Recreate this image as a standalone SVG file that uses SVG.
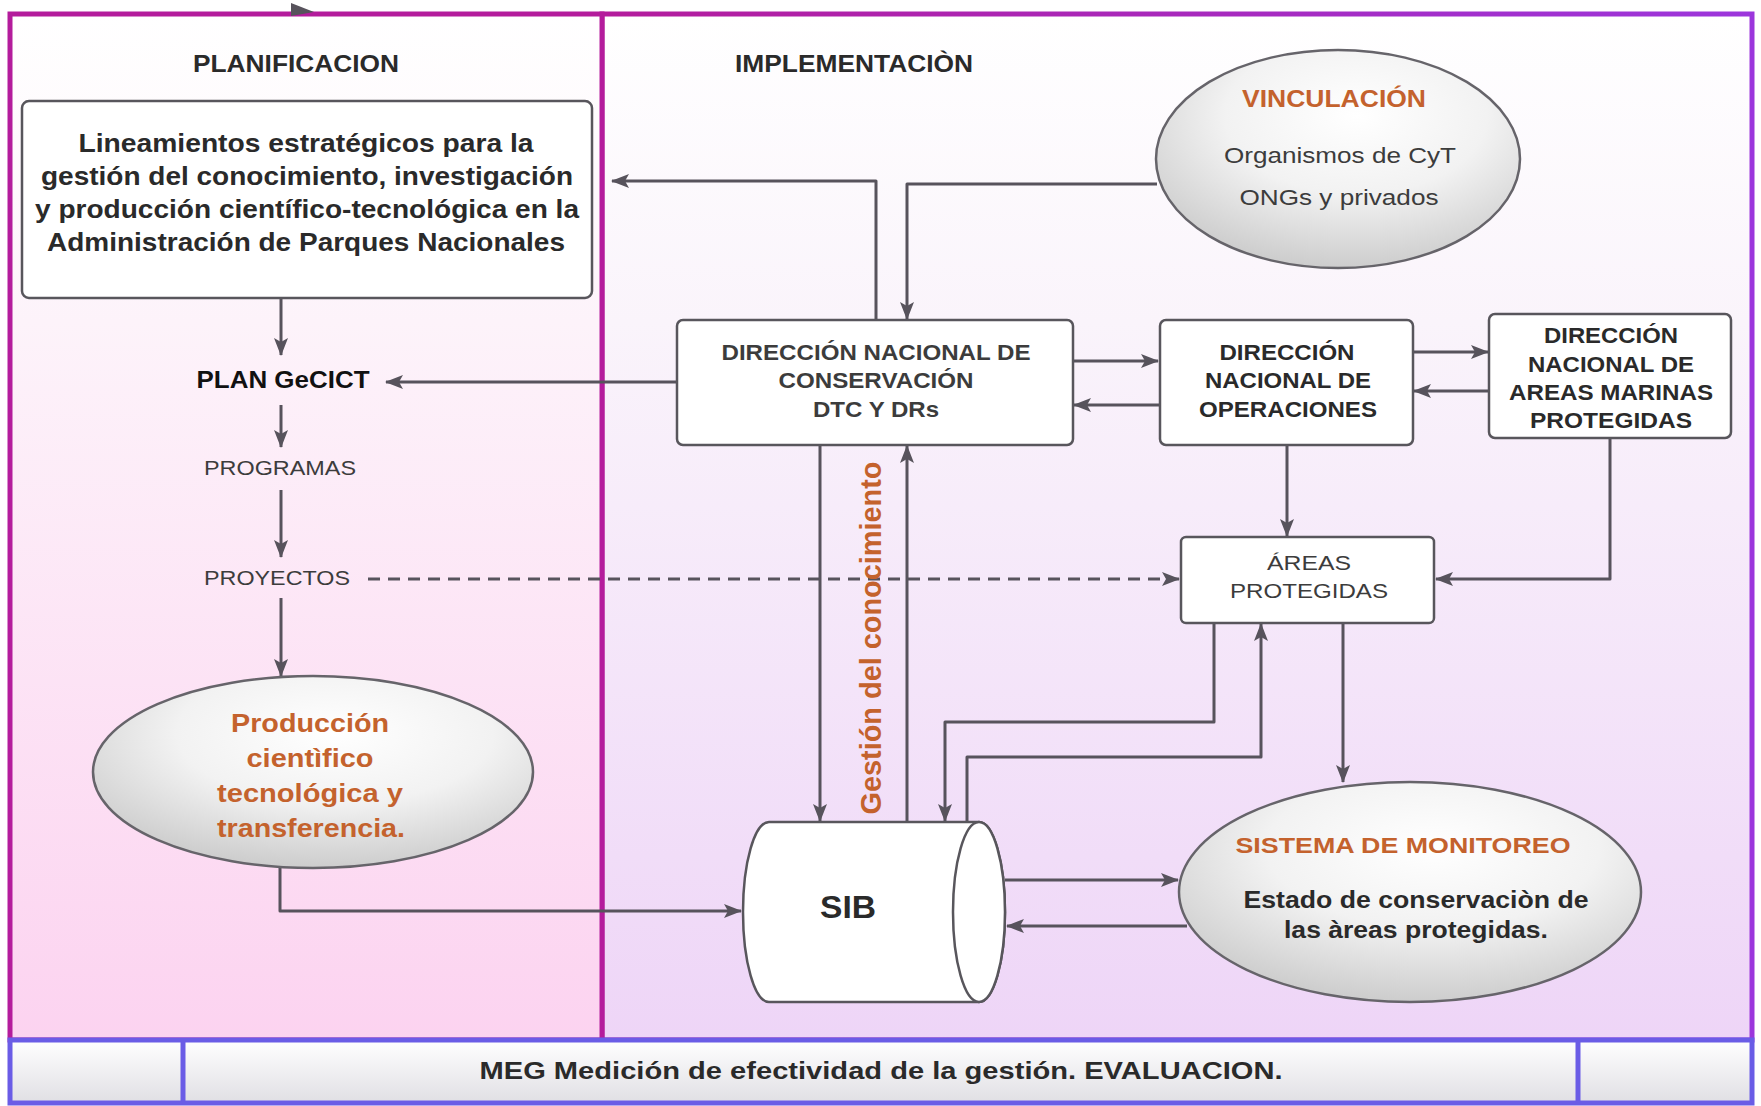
<svg xmlns="http://www.w3.org/2000/svg" width="1761" height="1106" viewBox="0 0 1761 1106">
<defs>
  <linearGradient id="bgL" x1="0" y1="0" x2="0" y2="1">
    <stop offset="0" stop-color="#ffffff"/>
    <stop offset="0.3" stop-color="#fdf3fa"/>
    <stop offset="1" stop-color="#fcd3f0"/>
  </linearGradient>
  <linearGradient id="bgR" x1="0" y1="0" x2="0" y2="1">
    <stop offset="0" stop-color="#ffffff"/>
    <stop offset="0.3" stop-color="#faf4fb"/>
    <stop offset="1" stop-color="#eed5f7"/>
  </linearGradient>
  <linearGradient id="strokeR" x1="0" y1="0" x2="1" y2="0">
    <stop offset="0" stop-color="#b41c9c"/>
    <stop offset="1" stop-color="#9c36dc"/>
  </linearGradient>
  <linearGradient id="cell" x1="0" y1="0" x2="0" y2="1">
    <stop offset="0" stop-color="#ffffff"/>
    <stop offset="1" stop-color="#e0dfe4"/>
  </linearGradient>
  <radialGradient id="ell" cx="0.55" cy="0.3" r="0.8">
    <stop offset="0" stop-color="#ffffff"/>
    <stop offset="0.45" stop-color="#f2f2f2"/>
    <stop offset="1" stop-color="#c2c2c2"/>
  </radialGradient>
  <marker id="arr" markerUnits="userSpaceOnUse" markerWidth="18" markerHeight="14" refX="17" refY="7" orient="auto">
    <path d="M0,0 L18,7 L0,14 L4,7 z" fill="#57535c"/>
  </marker>
</defs>
<style>
  .conn{fill:none;stroke:#57535c;stroke-width:3;stroke-linejoin:round;marker-end:url(#arr)}
  .dash{stroke-dasharray:12 8}
  .box{fill:#ffffff;stroke:#58565c;stroke-width:2.5}
  .ellipse{fill:url(#ell);stroke:#66646a;stroke-width:2.5}
  .t{font-family:"Liberation Sans",Arial,Helvetica,sans-serif;text-anchor:middle}
  .b{font-weight:bold}
  .dark{fill:#2a2a2a}
  .grey{fill:#3c3c3c}
  .or{fill:#c4622d}
</style>

<g id="panel-implementacion">
  <rect x="602" y="14" width="1150" height="1026" fill="url(#bgR)" stroke="url(#strokeR)" stroke-width="5"/>
  <text class="t b dark" x="854" y="72" font-size="24" textLength="238" lengthAdjust="spacingAndGlyphs">IMPLEMENTACIÒN</text>
</g>
<g id="panel-planificacion">
  <rect x="10" y="14" width="592" height="1026" fill="url(#bgL)" stroke="#b41c9c" stroke-width="5"/>
  <text class="t b dark" x="296" y="72" font-size="24" textLength="206" lengthAdjust="spacingAndGlyphs">PLANIFICACION</text>
  <path d="M291,3 L314,12 L291,16 z" fill="#57535c"/>
</g>

<g id="evaluacion">
  <rect x="10" y="1040" width="1742" height="63" fill="url(#cell)" stroke="#6a5ce6" stroke-width="5"/>
  <line x1="183" y1="1040" x2="183" y2="1103" stroke="#6a5ce6" stroke-width="5"/>
  <line x1="1578" y1="1040" x2="1578" y2="1103" stroke="#6a5ce6" stroke-width="5"/>
  <text class="t b dark" x="881" y="1079" font-size="23" textLength="803" lengthAdjust="spacingAndGlyphs">MEG Medición de efectividad de la gestión. EVALUACION.</text>
</g>

<g id="connectors">
  <path class="conn" d="M281,298 L281,355"/>
  <path class="conn" d="M281,405 L281,447"/>
  <path class="conn" d="M281,490 L281,557"/>
  <path class="conn" d="M281,598 L281,676"/>
  <path class="conn" d="M280,868 L280,911 L741,911"/>
  <path class="conn dash" d="M368,579 L1179,579"/>
  <path class="conn" d="M677,382 L386,382"/>
  <path class="conn" d="M876,320 L876,181 L612,181"/>
  <path class="conn" d="M1157,184 L907,184 L907,319"/>
  <path class="conn" d="M1073,361 L1158,361"/>
  <path class="conn" d="M1160,405 L1074,405"/>
  <path class="conn" d="M1413,352 L1488,352"/>
  <path class="conn" d="M1489,391 L1414,391"/>
  <path class="conn" d="M1287,445 L1287,536"/>
  <path class="conn" d="M1610,438 L1610,579 L1436,579"/>
  <path class="conn" d="M820,445 L820,821"/>
  <path class="conn" d="M907,822 L907,446"/>
  <path class="conn" d="M1214,623 L1214,722 L945,722 L945,821"/>
  <path class="conn" d="M967,822 L967,757 L1261,757 L1261,624"/>
  <path class="conn" d="M1343,623 L1343,782"/>
  <path class="conn" d="M1005,880 L1178,880"/>
  <path class="conn" d="M1187,926 L1007,926"/>
  <text class="t b or" transform="translate(881,638) rotate(-90)" font-size="29" textLength="353" lengthAdjust="spacingAndGlyphs">Gestión del conocimiento</text>
</g>

<g id="lineamientos">
  <rect class="box" x="22" y="101" width="570" height="197" rx="7"/>
  <text class="t b dark" font-size="26" x="306" y="152" textLength="455" lengthAdjust="spacingAndGlyphs">Lineamientos estratégicos para la</text>
  <text class="t b dark" font-size="26" x="307" y="185" textLength="532" lengthAdjust="spacingAndGlyphs">gestión del conocimiento, investigación</text>
  <text class="t b dark" font-size="26" x="307" y="218" textLength="544" lengthAdjust="spacingAndGlyphs">y producción científico-tecnológica en la</text>
  <text class="t b dark" font-size="26" x="306" y="251" textLength="518" lengthAdjust="spacingAndGlyphs">Administración de Parques Nacionales</text>
</g>

<g id="plan-gecict">
  <text class="t b" fill="#111" font-size="24" x="283" y="388" textLength="173" lengthAdjust="spacingAndGlyphs">PLAN GeCICT</text>
</g>
<g id="programas">
  <text class="t grey" font-size="21" x="280" y="475" textLength="152" lengthAdjust="spacingAndGlyphs">PROGRAMAS</text>
</g>
<g id="proyectos">
  <text class="t grey" font-size="21" x="277" y="585" textLength="146" lengthAdjust="spacingAndGlyphs">PROYECTOS</text>
</g>

<g id="produccion">
  <ellipse class="ellipse" cx="313" cy="772" rx="220" ry="96"/>
  <text class="t b or" font-size="25" x="310" y="732" textLength="158" lengthAdjust="spacingAndGlyphs">Producción</text>
  <text class="t b or" font-size="25" x="310" y="767" textLength="127" lengthAdjust="spacingAndGlyphs">cientìfico</text>
  <text class="t b or" font-size="25" x="310" y="802" textLength="186" lengthAdjust="spacingAndGlyphs">tecnológica y</text>
  <text class="t b or" font-size="25" x="311" y="837" textLength="188" lengthAdjust="spacingAndGlyphs">transferencia.</text>
</g>

<g id="vinculacion">
  <ellipse class="ellipse" cx="1338" cy="159" rx="182" ry="109"/>
  <text class="t b or" font-size="24" x="1334" y="107" textLength="184" lengthAdjust="spacingAndGlyphs">VINCULACIÓN</text>
  <text class="t grey" font-size="22" x="1340" y="163" textLength="232" lengthAdjust="spacingAndGlyphs">Organismos de CyT</text>
  <text class="t grey" font-size="22" x="1339" y="205" textLength="199" lengthAdjust="spacingAndGlyphs">ONGs y privados</text>
</g>

<g id="dnc">
  <rect class="box" x="677" y="320" width="396" height="125" rx="6"/>
  <text class="t b grey" font-size="22" x="876" y="360" textLength="309" lengthAdjust="spacingAndGlyphs">DIRECCIÓN NACIONAL DE</text>
  <text class="t b grey" font-size="22" x="876" y="388" textLength="195" lengthAdjust="spacingAndGlyphs">CONSERVACIÓN</text>
  <text class="t b grey" font-size="22" x="876" y="417" textLength="126" lengthAdjust="spacingAndGlyphs">DTC Y DRs</text>
</g>

<g id="dno">
  <rect class="box" x="1160" y="320" width="253" height="125" rx="6"/>
  <text class="t b dark" font-size="22" x="1287" y="360" textLength="135" lengthAdjust="spacingAndGlyphs">DIRECCIÓN</text>
  <text class="t b dark" font-size="22" x="1288" y="388" textLength="166" lengthAdjust="spacingAndGlyphs">NACIONAL DE</text>
  <text class="t b dark" font-size="22" x="1288" y="417" textLength="178" lengthAdjust="spacingAndGlyphs">OPERACIONES</text>
</g>

<g id="dnamp">
  <rect class="box" x="1489" y="314" width="242" height="124" rx="6"/>
  <text class="t b dark" font-size="22" x="1611" y="343" textLength="134" lengthAdjust="spacingAndGlyphs">DIRECCIÓN</text>
  <text class="t b dark" font-size="22" x="1611" y="372" textLength="166" lengthAdjust="spacingAndGlyphs">NACIONAL DE</text>
  <text class="t b dark" font-size="22" x="1611" y="400" textLength="204" lengthAdjust="spacingAndGlyphs">AREAS MARINAS</text>
  <text class="t b dark" font-size="22" x="1611" y="428" textLength="162" lengthAdjust="spacingAndGlyphs">PROTEGIDAS</text>
</g>

<g id="areas-protegidas">
  <rect class="box" x="1181" y="537" width="253" height="86" rx="5"/>
  <text class="t grey" font-size="21" x="1309" y="570" textLength="84" lengthAdjust="spacingAndGlyphs">ÁREAS</text>
  <text class="t grey" font-size="21" x="1309" y="598" textLength="158" lengthAdjust="spacingAndGlyphs">PROTEGIDAS</text>
</g>

<g id="sib">
  <path d="M769,822 L979,822 A26,90 0 0 1 979,1002 L769,1002 A26,90 0 0 1 769,822 Z" fill="#ffffff" stroke="#58565c" stroke-width="2.5"/>
  <ellipse cx="979" cy="912" rx="26" ry="90" fill="#ffffff" stroke="#58565c" stroke-width="2.5"/>
  <text class="t b dark" font-size="31" x="848" y="918" textLength="56" lengthAdjust="spacingAndGlyphs">SIB</text>
</g>

<g id="sistema-monitoreo">
  <ellipse class="ellipse" cx="1410" cy="892" rx="231" ry="110"/>
  <text class="t b or" font-size="22" x="1403" y="853" textLength="335" lengthAdjust="spacingAndGlyphs">SISTEMA DE MONITOREO</text>
  <text class="t b dark" font-size="23" x="1416" y="908" textLength="345" lengthAdjust="spacingAndGlyphs">Estado de conservaciòn de</text>
  <text class="t b dark" font-size="23" x="1416" y="938" textLength="264" lengthAdjust="spacingAndGlyphs">las àreas protegidas.</text>
</g>
</svg>
